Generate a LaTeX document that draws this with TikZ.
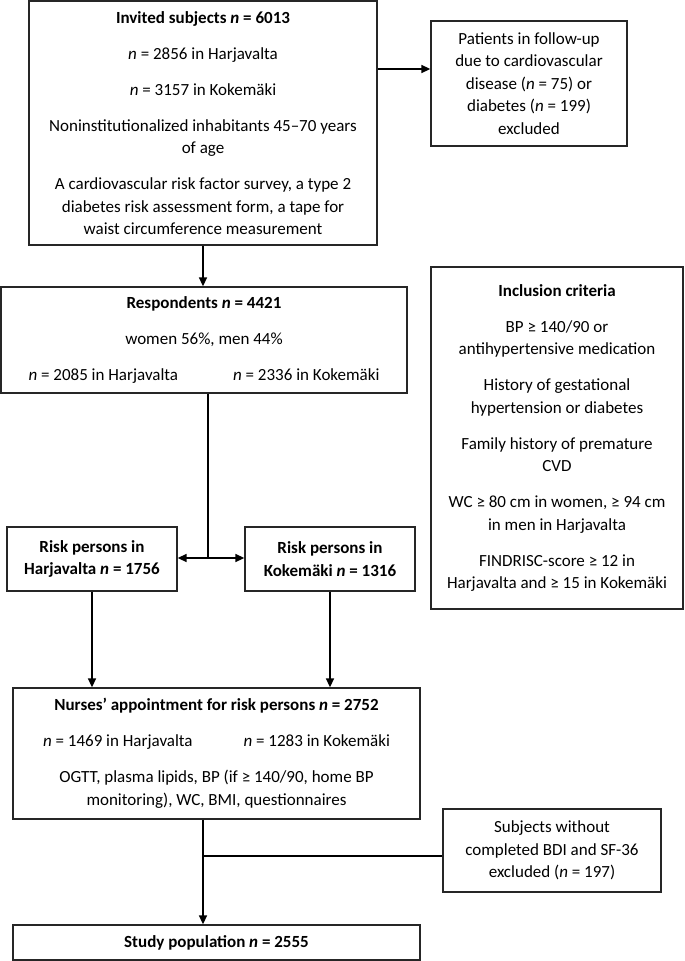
\documentclass[tikz,border=0pt]{standalone}
\usepackage{fontspec}
\setmainfont{Carlito}
\usetikzlibrary{arrows.meta}

\tikzset{
  box/.style={draw=black!85, line width=1.3pt, rectangle, align=center, inner sep=2pt,
    font=\fontsize{17}{22.5}\selectfont},
  arr/.style={-{Triangle[length=9pt,width=8pt]}, line width=1.5pt},
  ln/.style={line width=1.5pt}
}

\begin{document}
\begin{tikzpicture}[x=1pt,y=-1pt]
\useasboundingbox (0,0) rectangle (685,961);

\node[box, minimum width=348pt, minimum height=244pt] (inv) at (203,123)
  {\textbf{Invited subjects \textit{n} = 6013}\\[13.5pt]
   \textit{n} = 2856 in Harjavalta\\[13.5pt]
   \textit{n} = 3157 in Kokemäki\\[13.5pt]
   Noninstitutionalized inhabitants 45--70 years\\ of age\\[13.5pt]
   A cardiovascular risk factor survey, a type 2\\ diabetes risk assessment form, a tape for\\ waist circumference measurement};

\node[box, minimum width=196pt, minimum height=125pt] (pat) at (529,83.5)
  {Patients in follow-up\\ due to cardiovascular\\ disease (\textit{n} = 75) or\\ diabetes (\textit{n} = 199)\\ excluded};

\node[box, minimum width=406pt, minimum height=106pt] (resp) at (204,340)
  {\textbf{Respondents \textit{n} = 4421}\\[13.5pt]
   women 56\%, men 44\%\\[13.5pt]
   \textit{n} = 2085 in Harjavalta\hspace{55pt}\textit{n} = 2336 in Kokemäki};

\node[box, minimum width=252pt, minimum height=342pt] (incl) at (557,438)
  {\textbf{Inclusion criteria}\\[13.5pt]
   BP ≥ 140/90 or\\ antihypertensive medication\\[13.5pt]
   History of gestational\\ hypertension or diabetes\\[13.5pt]
   Family history of premature\\ CVD\\[13.5pt]
   WC ≥ 80 cm in women, ≥ 94 cm\\ in men in Harjavalta\\[13.5pt]
   FINDRISC-score ≥ 12 in\\ Harjavalta and ≥ 15 in Kokemäki};

\node[box, minimum width=170pt, minimum height=64pt] (riskH) at (92,559)
  {\textbf{Risk persons in}\\ \textbf{Harjavalta \textit{n} = 1756}};
\node[box, minimum width=170pt, minimum height=64pt] (riskK) at (330,559)
  {\textbf{Risk persons in}\\ \textbf{Kokemäki \textit{n} = 1316}};

\node[box, minimum width=407pt, minimum height=131pt] (nurse) at (216.5,753.5)
  {\textbf{Nurses’ appointment for risk persons \textit{n} = 2752}\\[13.5pt]
   \textit{n} = 1469 in Harjavalta\hspace{51pt}\textit{n} = 1283 in Kokemäki\\[13.5pt]
   OGTT, plasma lipids, BP (if ≥ 140/90, home BP\\ monitoring), WC, BMI, questionnaires};

\node[box, minimum width=218pt, minimum height=83pt] (subj) at (552,850.5)
  {Subjects without\\ completed BDI and SF-36\\ excluded (\textit{n} = 197)};

\node[box, minimum width=407pt, minimum height=35pt] (study) at (216.5,942.5)
  {\textbf{Study population \textit{n} = 2555}};

\coordinate (excl) at (0,69);
\coordinate (split) at (208,558);
\coordinate (join) at (203,856);

\draw[arr] (inv.east |- excl) -- (pat.west |- excl);
\draw[arr] (inv.south) -- (inv.south |- resp.north);
\draw[ln] (resp.south -| split) -- (split);
\draw[arr] (split) -- (riskH.east |- split);
\draw[arr] (split) -- (riskK.west |- split);
\draw[arr] (riskH.south) -- (riskH.south |- nurse.north);
\draw[arr] (riskK.south) -- (riskK.south |- nurse.north);
\draw[arr] (nurse.south -| join) -- (study.north -| join);
\draw[ln] (join) -- (subj.west |- join);
\end{tikzpicture}
\end{document}
